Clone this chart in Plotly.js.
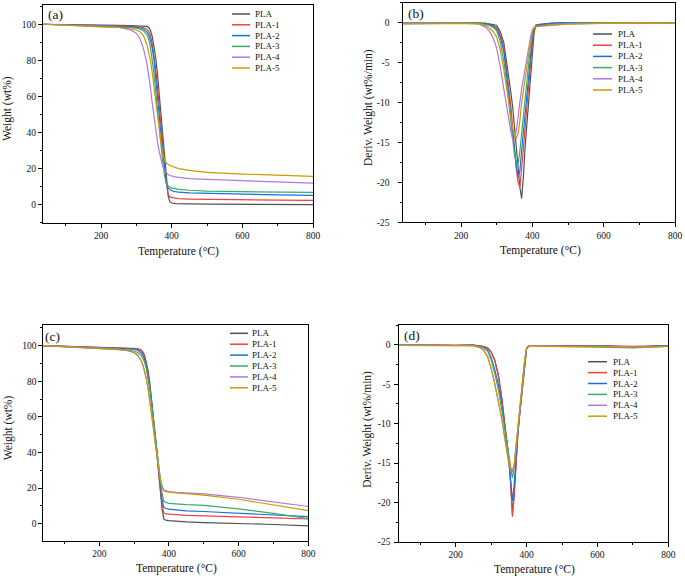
<!DOCTYPE html>
<html>
<head>
<meta charset="utf-8">
<script src="https://cdn.plot.ly/plotly-3.0.1.min.js"></script>
<style>html,body{margin:0;padding:0;background:#fff;}#chart{width:685px;height:579px;}</style>
</head>
<body>
<div id="chart"></div>
<script>
// ---------------- DATA ----------------
const seriesNames = ['PLA', 'PLA-1', 'PLA-2', 'PLA-3', 'PLA-4', 'PLA-5'];

// (a) TGA, sample set 1 : temperature (°C) and weight (wt%)
const tA = [36, 100, 150, 200, 250, 280, 300, 310, 320, 330, 335, 340, 345, 350, 355, 360, 365, 370, 375, 380, 385, 390, 395, 400, 410, 420, 450, 500, 600, 700, 800];
const a_PLA  = [100, 99.7, 99.6, 99.5, 99.4, 99.3, 99.2, 99.1, 99.0, 98.8, 98.2, 96.5, 93, 88, 81, 71.5, 61, 50, 38.5, 27, 15, 4.5, 1.3, 0.7, 0.4, 0.3, 0.2, 0.1, 0, -0.1, -0.2];
const a_PLA1 = [100, 99.6, 99.5, 99.3, 99.1, 98.9, 98.7, 98.5, 98.2, 97.2, 96, 93.5, 89, 82.5, 74.5, 64.5, 53.5, 42.5, 32, 21.5, 11.5, 5.5, 4.1, 3.7, 3.3, 3.1, 2.9, 2.7, 2.4, 2.3, 2.2];
const a_PLA2 = [100, 99.5, 99.4, 99.2, 98.9, 98.6, 98.3, 98.0, 97.4, 95.8, 94, 91, 86.5, 80, 70.5, 59, 48.5, 38, 28, 18.5, 11.5, 9, 8, 7.5, 7, 6.7, 6.3, 6, 5.5, 5.2, 5.0];
const a_PLA3 = [100, 99.4, 99.2, 99.0, 98.6, 98.2, 97.8, 97.3, 96.4, 94.2, 91.5, 87, 80.5, 72, 62, 51, 41, 31.5, 22.5, 15.5, 11.5, 10.2, 9.5, 9.1, 8.7, 8.3, 7.8, 7.3, 7.0, 6.8, 6.6];
const a_PLA4 = [100, 99.4, 99.1, 98.8, 98.3, 97.2, 95, 92, 86.5, 78, 72, 64.5, 56, 48, 41, 34.5, 29, 24.5, 21, 18.7, 17.3, 16.5, 16, 15.6, 15.2, 14.9, 14.3, 13.8, 13, 12.3, 11.7];
const a_PLA5 = [100, 99.3, 99.0, 98.6, 98.2, 97.6, 96.8, 95.8, 93.8, 88.5, 84.5, 79.5, 73, 65, 56.5, 48, 40.5, 33.5, 28, 24.5, 22.8, 22, 21.5, 21.1, 20.4, 19.8, 18.8, 17.7, 16.8, 16.2, 15.5];

// (b) DTG, sample set 1 : deriv. weight (wt%/min)
const tB = [36, 100, 150, 200, 250, 270, 280, 290, 300, 310, 320, 330, 340, 345, 350, 355, 360, 365, 370, 375, 380, 385, 390, 395, 400, 405, 410, 420, 450, 500, 600, 700, 800];
const b_PLA  = [0, 0, 0, 0, -0.05, -0.1, -0.15, -0.25, -0.35, -1.1, -2.5, -5.4, -8.8, -10.6, -13.2, -16.2, -18.5, -20.6, -22.0, -19.3, -15.4, -12.5, -9.8, -6.5, -3.7, -1.2, -0.3, -0.2, -0.1, 0, 0, 0, 0];
const b_PLA1 = [0, 0, 0, 0, -0.05, -0.1, -0.2, -0.35, -0.6, -1.4, -3.0, -6.4, -10.5, -13.3, -16, -18.2, -20, -20.6, -18.3, -15.7, -13, -10.4, -7.8, -5, -2.5, -1, -0.4, -0.25, -0.1, 0, 0, 0, 0];
const b_PLA2 = [0, 0, 0, 0, -0.05, -0.15, -0.25, -0.45, -0.8, -1.8, -3.6, -7.4, -11.6, -14.3, -16.5, -18, -19.3, -18.6, -16, -13.5, -11, -8.6, -6.2, -4, -1.9, -0.8, -0.4, -0.3, -0.1, 0, 0, 0, 0];
const b_PLA3 = [0, 0, 0.05, 0, -0.05, -0.2, -0.35, -0.6, -1.0, -2.4, -4.8, -8.3, -12.6, -15, -16.6, -17.4, -17.7, -16.1, -13.8, -11.2, -8.9, -6.8, -4.8, -2.8, -1.3, -0.7, -0.5, -0.4, -0.2, -0.05, 0, 0, 0];
const b_PLA4 = [-0.05, -0.05, -0.05, -0.05, -0.15, -0.6, -1.1, -1.9, -3.2, -5.5, -8.3, -11.3, -13.7, -14.6, -14.6, -13.6, -12.1, -10, -8.3, -6.9, -5.6, -4.4, -3.2, -1.8, -0.9, -0.6, -0.5, -0.45, -0.3, -0.15, -0.05, 0, -0.05];
const b_PLA5 = [-0.2, -0.15, -0.1, -0.1, -0.15, -0.4, -0.7, -1.1, -1.8, -3.4, -5.9, -8.7, -12, -13.3, -14.2, -14.5, -13.9, -12.3, -10, -8.3, -6.8, -5.4, -4, -2.5, -1.1, -0.6, -0.5, -0.45, -0.35, -0.2, -0.1, -0.05, -0.1];

// (c) TGA, sample set 2
const tC = [38, 100, 150, 200, 250, 280, 300, 310, 320, 325, 330, 335, 340, 345, 350, 355, 360, 365, 370, 375, 380, 385, 390, 400, 420, 450, 500, 600, 700, 800];
const c_PLA  = [100, 99.6, 99.4, 99.2, 99, 98.8, 98.6, 98.3, 97.5, 96.5, 94.5, 91, 86, 79, 70.5, 60.5, 50, 39.5, 29, 18.5, 8.5, 2.8, 2, 1.7, 1.3, 1, 0.6, 0.2, -0.5, -1.3];
const c_PLA1 = [100, 99.6, 99.4, 99.2, 99, 98.8, 98.6, 98.2, 97.2, 96, 93.8, 90, 84.5, 77.5, 69, 59.5, 49.5, 39.5, 29.5, 20, 11, 6, 5.6, 5.3, 5, 4.6, 4.3, 3.9, 3.2, 2.6];
const c_PLA2 = [100, 99.5, 99.2, 98.9, 98.6, 98.3, 98, 97.4, 96, 94.6, 92.3, 88.5, 83, 76.5, 68.5, 59.5, 50, 40.5, 31, 22, 13.5, 9.2, 8.6, 8.1, 7.6, 7.2, 6.8, 5.8, 4.8, 3.9];
const c_PLA3 = [100, 99.4, 99, 98.5, 98, 97.5, 97, 96.2, 94.8, 93.2, 90.8, 87, 82, 75.5, 67.5, 58.5, 49.5, 41, 32.5, 24.5, 17, 12.8, 12, 11.4, 11, 10.7, 10.3, 8.3, 5.8, 2.8];
const c_PLA4 = [100, 99.5, 99, 98.5, 98, 97.2, 96, 94.5, 91.5, 89.2, 85.8, 81.5, 76, 69.5, 62, 54, 46, 38.5, 31.5, 25.5, 21, 19, 18.5, 18, 17.6, 17.3, 16.7, 14.8, 12, 9.6];
const c_PLA5 = [100, 99.5, 99, 98.5, 98, 97.3, 96.3, 94.8, 91.8, 89.5, 86, 81.5, 76, 69.5, 62, 54, 46, 38.3, 31.3, 25.3, 20.8, 18.6, 18, 17.6, 17.2, 16.8, 16, 13.7, 10.5, 7.3];

// (d) DTG, sample set 2
const tD = [40, 100, 150, 200, 250, 270, 280, 290, 300, 310, 320, 330, 340, 345, 350, 355, 360, 365, 370, 375, 380, 385, 390, 395, 400, 405, 410, 420, 450, 500, 600, 700, 800];
const d_PLA  = [0, -0.05, -0.05, -0.1, -0.05, -0.15, -0.25, -0.4, -0.9, -1.9, -3.7, -6.7, -10.3, -12.4, -14.5, -17.4, -21.4, -19.0, -14.6, -11.6, -9.1, -6.7, -4.4, -2.0, -0.5, -0.2, -0.1, -0.1, -0.1, -0.2, -0.1, -0.3, -0.1];
const d_PLA1 = [0, -0.05, -0.05, -0.05, -0.05, -0.15, -0.25, -0.45, -1.0, -2.0, -3.9, -6.9, -10.5, -12.6, -14.6, -17.5, -21.8, -19.2, -14.6, -11.6, -9.1, -6.7, -4.4, -2.0, -0.5, -0.2, -0.1, -0.1, -0.1, -0.1, -0.1, -0.2, -0.1];
const d_PLA2 = [0, -0.05, -0.05, -0.1, -0.05, -0.2, -0.35, -0.7, -1.6, -3.1, -5.0, -7.6, -10.5, -12.5, -14.6, -17, -19.8, -17.8, -13.8, -11.2, -9, -6.6, -4.3, -2, -0.5, -0.2, -0.1, -0.1, -0.15, -0.2, -0.15, -0.3, -0.1];
const d_PLA3 = [0, -0.05, -0.1, -0.1, -0.05, -0.25, -0.4, -0.8, -1.9, -3.6, -5.6, -8.2, -11, -12.7, -14.3, -15.8, -16.9, -15.5, -13, -10.7, -8.8, -6.5, -4.2, -2, -0.5, -0.2, -0.1, -0.1, -0.15, -0.2, -0.3, -0.4, -0.2];
const d_PLA4 = [0, -0.05, -0.1, -0.15, -0.1, -0.35, -0.7, -1.5, -3.0, -4.9, -7.0, -9.4, -12.3, -13.8, -15.1, -15.8, -16.1, -15.3, -13, -10.8, -8.8, -6.4, -4, -1.8, -0.5, -0.2, -0.1, -0.1, -0.15, -0.2, -0.2, -0.3, -0.2];
const d_PLA5 = [-0.1, -0.1, -0.1, -0.15, -0.15, -0.4, -0.8, -1.5, -3.0, -4.9, -7.0, -9.3, -12.2, -13.6, -14.9, -15.6, -15.9, -15.2, -12.8, -10.6, -8.7, -6.3, -3.9, -1.8, -0.5, -0.2, -0.15, -0.15, -0.2, -0.25, -0.2, -0.3, -0.2];

// tick labels
const xTickVals = [200, 400, 600, 800];
const xTickText = ['200', '400', '600', '800'];
const wTickVals = [0, 20, 40, 60, 80, 100];
const wTickText = ['0', '20', '40', '60', '80', '100'];
const dTickVals = [0, -5, -10, -15, -20, -25];
const dTickText = ['0', '-5', '-10', '-15', '-20', '-25'];

// ---------------- STYLE / LAYOUT ----------------
const W = 685, H = 579;
const colors = ['#515151', '#F14040', '#1A6FDF', '#37AD6B', '#B177DE', '#CC9900'];
const serif = 'Liberation Serif, Times New Roman, serif';
const px = p => p / W;
const py = p => 1 - p / H;

const panels = [
  { xa: 'x',  ya: 'y',  t: tA, s: [a_PLA, a_PLA1, a_PLA2, a_PLA3, a_PLA4, a_PLA5],
    box: [43, 313, 5, 223], xr: [35.6, 800], yr: [-10.4, 110.7], kind: 'w',
    label: '(a)', labelPos: [55.5, 15], xt: [178, 251], yt: [8, 109], ytText: 'Weight (wt%)', standoff: 0,
    leg: { x0: 232, x1: 250, tx: 253, y0: 14, dy: 10.8 } },
  { xa: 'x2', ya: 'y2', t: tB, s: [b_PLA, b_PLA1, b_PLA2, b_PLA3, b_PLA4, b_PLA5],
    box: [403.3, 675, 2.7, 222.3], xr: [38.2, 800], yr: [-25, 2.5], kind: 'd',
    label: '(b)', labelPos: [415.5, 13], xt: [540, 250], yt: [368, 108], ytText: 'Deriv. Weight (wt%/min)', standoff: 7,
    leg: { x0: 593, x1: 612, tx: 616, y0: 34, dy: 11.2 } },
  { xa: 'x3', ya: 'y3', t: tC, s: [c_PLA, c_PLA1, c_PLA2, c_PLA3, c_PLA4, c_PLA5],
    box: [43.3, 308.3, 325, 540.7], xr: [39.2, 800], yr: [-9.6, 111.6], kind: 'w',
    label: '(c)', labelPos: [52.5, 336.7], xt: [176, 568], yt: [8.3, 428], ytText: 'Weight (wt%)', standoff: 0,
    leg: { x0: 230, x1: 248, tx: 250, y0: 333.3, dy: 10.9 } },
  { xa: 'x4', ya: 'y4', t: tD, s: [d_PLA, d_PLA1, d_PLA2, d_PLA3, d_PLA4, d_PLA5],
    box: [399.3, 668.3, 325, 542], xr: [40.8, 800], yr: [-25, 2.5], kind: 'd',
    label: '(d)', labelPos: [411.5, 335], xt: [534, 569], yt: [366.7, 429], ytText: 'Deriv. Weight (wt%/min)', standoff: 2,
    leg: { x0: 588, x1: 607, tx: 611, y0: 361.7, dy: 10.9 } }
];

const traces = [];
const layout = {
  width: W, height: H,
  margin: { l: 0, r: 0, t: 0, b: 0 },
  paper_bgcolor: '#fff', plot_bgcolor: '#fff',
  showlegend: false,
  font: { family: serif, color: '#111' },
  shapes: [], annotations: []
};

const axisCommon = {
  showline: true, mirror: true, linecolor: '#000', linewidth: 1,
  ticks: 'outside', ticklen: 4, tickwidth: 1, tickcolor: '#000',
  showgrid: false, zeroline: false, fixedrange: true,
  tickfont: { family: serif, size: 9.5, color: '#111' },
  automargin: false
};

panels.forEach((p, pi) => {
  const n = pi === 0 ? '' : String(pi + 1);
  p.s.forEach((vals, i) => {
    traces.push({
      x: p.t, y: vals, type: 'scatter', mode: 'lines',
      name: seriesNames[i], xaxis: p.xa, yaxis: p.ya,
      line: { color: colors[i], width: 1.2 },
      hoverinfo: 'skip'
    });
  });
  layout['xaxis' + n] = Object.assign({}, axisCommon, {
    domain: [px(p.box[0]), px(p.box[1])], anchor: p.ya, range: p.xr,
    tickmode: 'array', tickvals: xTickVals, ticktext: xTickText,
    minor: { tickmode: 'linear', tick0: 0, dtick: 100, ticks: 'outside', ticklen: 2, tickwidth: 1, tickcolor: '#000', showgrid: false }
  });
  const yExtra = p.kind === 'w'
    ? { tickvals: wTickVals, ticktext: wTickText, minor: { tickmode: 'linear', tick0: 0, dtick: 10, ticks: 'outside', ticklen: 2, tickwidth: 1, tickcolor: '#000', showgrid: false } }
    : { tickvals: dTickVals, ticktext: dTickText, minor: { tickmode: 'linear', tick0: 0, dtick: 2.5, ticks: 'outside', ticklen: 2, tickwidth: 1, tickcolor: '#000', showgrid: false } };
  layout['yaxis' + n] = Object.assign({}, axisCommon, {
    domain: [py(p.box[3]), py(p.box[2])], anchor: p.xa, range: p.yr,
    tickmode: 'array', ticklabelstandoff: p.standoff
  }, yExtra);

  // panel label
  layout.annotations.push({ xref: 'paper', yref: 'paper', x: px(p.labelPos[0]), y: py(p.labelPos[1]),
    xanchor: 'center', yanchor: 'middle', showarrow: false, text: p.label,
    font: { family: serif, size: 13.5, color: '#111' } });
  // axis titles
  layout.annotations.push({ xref: 'paper', yref: 'paper', x: px(p.xt[0]), y: py(p.xt[1]),
    xanchor: 'center', yanchor: 'middle', showarrow: false, text: 'Temperature (°C)',
    font: { family: serif, size: 11.5, color: '#111' } });
  layout.annotations.push({ xref: 'paper', yref: 'paper', x: px(p.yt[0]), y: py(p.yt[1]),
    xanchor: 'center', yanchor: 'middle', showarrow: false, text: p.ytText, textangle: -90,
    font: { family: serif, size: 11.5, color: '#111' } });
  // legend (compact, drawn as shapes + text)
  seriesNames.forEach((nm, i) => {
    const yy = p.leg.y0 + i * p.leg.dy;
    layout.shapes.push({ type: 'line', xref: 'paper', yref: 'paper',
      x0: px(p.leg.x0), x1: px(p.leg.x1), y0: py(yy), y1: py(yy),
      line: { color: colors[i], width: 1.5 } });
    layout.annotations.push({ xref: 'paper', yref: 'paper', x: px(p.leg.tx), y: py(yy),
      xanchor: 'left', yanchor: 'middle', showarrow: false, text: nm,
      font: { family: serif, size: 9, color: '#111' } });
  });
});

Plotly.newPlot('chart', traces, layout, { staticPlot: true, displayModeBar: false });
</script>
</body>
</html>
